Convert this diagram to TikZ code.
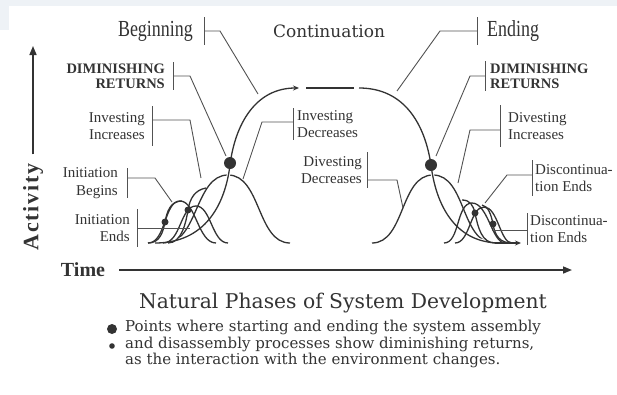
\documentclass[tikz,border=0pt]{standalone}
\usepackage{fontspec}
\usepackage{graphicx}
\setmainfont{Liberation Serif}
\newfontfamily\wide{DejaVu Serif}
\usetikzlibrary{arrows.meta}
\definecolor{ink}{HTML}{333333}
\definecolor{haze}{HTML}{EEF2F6}
\tikzset{
  curve/.style={draw=ink, line width=1.3pt},
  halo/.style={curve, preaction={draw=white, line width=3.5pt}},
  axis/.style={draw=ink, line width=1.6pt, -{Triangle[length=9pt,width=7pt]}},
  lead/.style={draw=ink!85, line width=0.9pt},
  lbl/.style={text=ink, inner sep=0pt, font=\fontsize{15}{17.5}\selectfont},
  lblL/.style={lbl, anchor=east, align=right},
  lblR/.style={lbl, anchor=west, align=left},
  dimret/.style={font=\fontsize{14.5}{15}\selectfont\bfseries},
  big/.style={font=\fontsize{23}{23}\selectfont}
}
\begin{document}
\begin{tikzpicture}[x=1pt, y=-1pt]
  \useasboundingbox (0,0) rectangle (617,394);
  \fill[haze] (0,0) rectangle (617,6);
  \fill[haze] (0,0) rectangle (9,30);

  % axes
  \node[text=ink, inner sep=0pt, rotate=90, font=\fontsize{22}{22}\selectfont\bfseries\addfontfeature{LetterSpace=8}] (act) at (33,207) {Activity};
  \node[text=ink, inner sep=0pt, font=\fontsize{20}{20}\selectfont\bfseries] (time) at (83,270) {Time};
  \coordinate (atip) at (33,46);
  \coordinate (ttip) at (572,270);
  \draw[axis] ([yshift=9pt]act.east) -- (atip);
  \draw[axis] ([xshift=14pt]time.east) -- (ttip);

  % rate curves
  \draw[curve] (165,243) .. controls (198,243) and (195,175) .. (228,175) .. controls (261,175) and (257,243) .. (290,243);
  \draw[curve] (372,243) .. controls (405,243) and (400,175) .. (433,175) .. controls (466,175) and (461,243) .. (494,243);
  % growth and decline
  \draw[halo, -{Stealth[length=6pt,width=5pt]}] (155,243) .. controls (205,243) and (225,205) .. (230,165) .. controls (235,125) and (255,88) .. (299,88);
  \draw[curve] (306,88) -- (354,88);
  \draw[halo] (359,88) .. controls (405,88) and (425,125) .. (431,165) .. controls (436,205) and (455,243) .. (500,243);
  % initiation
  \draw[curve] (148,243) .. controls (166,243) and (164,201) .. (180,201) .. controls (196,201) and (198,243) .. (216,243);
  \draw[curve] (163,243) .. controls (181,243) and (180,206) .. (196,206) .. controls (211,206) and (212,243) .. (228,243);
  \draw[curve] (148,243) .. controls (160,243) and (163,232) .. (165,222) .. controls (167,212) and (170,201) .. (182,201);
  \draw[curve] (168,243) .. controls (182,243) and (186,222) .. (188,210) .. controls (190,198) and (195,190) .. (206,188);
  % discontinuation
  \draw[curve] (444,243) .. controls (460,243) and (456,203) .. (472,203) .. controls (488,203) and (492,243) .. (505,243);
  \draw[curve] (455,243) .. controls (470,243) and (470,207) .. (484,207) .. controls (498,207) and (500,243) .. (512,243);
  \draw[curve] (462,200) .. controls (470,200) and (473,205) .. (475,213) .. controls (478,228) and (482,243) .. (495,243);
  \draw[curve] (482,205) .. controls (488,206) and (491,214) .. (493,224) .. controls (495,236) and (500,243) .. (512,243);
  \draw[curve, -{Stealth[length=6pt,width=5pt]}] (495,243) -- (521,243);

  \foreach \p in {(230,163),(431,165)}
    \fill[ink] \p circle[radius=6pt];
  \foreach \p in {(165,222),(188,210),(475,213),(493,224)}
    \fill[ink] \p circle[radius=3.5pt];

  % labels
  \node[text=ink, inner sep=0pt, font=\wide\fontsize{17}{17}\selectfont] (cont) at (329,31) {Continuation};
  \node[lblL, big] (beg) at (193,31) {\scalebox{0.78}[1]{Beginning}};
  \node[lblR, big] (endg) at (487,31) {\scalebox{0.78}[1]{Ending}};
  \node[lblL, dimret] (dimL) at (165,76) {DIMINISHING\\RETURNS};
  \node[lblR, dimret] (dimR) at (490,76) {DIMINISHING\\RETURNS};
  \node[lblL] (invI) at (145,126) {Investing\\Increases};
  \node[lblR] (invD) at (297,124) {Investing\\Decreases};
  \node[lblL] (initB) at (118,183) {Initiation\\Begins};
  \node[lblL] (initE) at (130,228) {Initiation\\Ends};
  \node[lblL] (divD) at (362,170) {Divesting\\Decreases};
  \node[lblR] (divI) at (508,126) {Divesting\\Increases};
  \node[lblR] (discU) at (535,178) {Discontinua-\\tion Ends};
  \node[lblR] (discL) at (530,229) {Discontinua-\\tion Ends};

  % bars beside the labels
  \foreach \n/\a/\s/\h in {beg/east/11/14, dimL/east/8/14, invI/east/7/20, initB/east/9/15, initE/east/7/19, divD/east/5/18,
                            endg/west/-10/14, dimR/west/-5/15, invD/west/-4/16, divI/west/-8/21, discU/west/-3/18, discL/west/-3/16}
    \draw[lead] ([xshift=\s pt, yshift=\h pt]\n.\a) -- ([xshift=\s pt, yshift=-\h pt]\n.\a);

  % leaders
  \coordinate (begP) at (258,94);
  \coordinate (dimLP) at (226,156);
  \coordinate (invIP) at (201,178);
  \coordinate (invDP) at (243,179);
  \coordinate (initBP) at (172,202);
  \coordinate (initEP) at (190,228);
  \coordinate (endP) at (397,91);
  \coordinate (dimRP) at (436,156);
  \coordinate (divIP) at (458,183);
  \coordinate (divDP) at (403,208);
  \coordinate (discUP) at (485,203);
  \coordinate (discLP) at (492,230);
  \draw[lead] ([xshift=11pt]beg.east) -- ++(16,0) -- (begP);
  \draw[lead] ([xshift=8pt]dimL.east) -- ++(17,0) -- (dimLP);
  \draw[lead] ([xshift=7pt, yshift=6pt]invI.east) -- ++(38,0) -- (invIP);
  \draw[lead] ([xshift=-4pt, yshift=2pt]invD.west) -- ++(-31,0) -- (invDP);
  \draw[lead] ([xshift=9pt, yshift=5pt]initB.east) -- ++(28,0) -- (initBP);
  \draw[lead] ([xshift=7pt]initE.east) -- (initEP);
  \draw[lead] ([xshift=-10pt]endg.west) -- ++(-37,0) -- (endP);
  \draw[lead] ([xshift=-5pt]dimR.west) -- ++(-15,0) -- (dimRP);
  \draw[lead] ([xshift=-8pt, yshift=-4pt]divI.west) -- ++(-30,0) -- (divIP);
  \draw[lead] ([xshift=5pt, yshift=-10pt]divD.east) -- ++(30,0) -- (divDP);
  \draw[lead] ([xshift=-3pt, yshift=3pt]discU.west) -- ++(-25,0) -- (discUP);
  \draw[lead] ([xshift=-3pt, yshift=-1pt]discL.west) -- (discLP);

  % caption
  \node[text=ink, inner sep=0pt, font=\wide\fontsize{20.3}{20}\selectfont] (title) at (343,303) {Natural Phases of System Development};
  \node[text=ink, inner sep=0pt, anchor=north west, align=left, font=\wide\fontsize{15}{16.5}\selectfont] (note) at (125,320)
    {Points where starting and ending the system assembly\\and disassembly processes show diminishing returns,\\as the interaction with the environment changes.};
  \fill[ink] (112,329) circle[radius=5pt];
  \fill[ink] (112,346) circle[radius=2.8pt];
\end{tikzpicture}
\end{document}
